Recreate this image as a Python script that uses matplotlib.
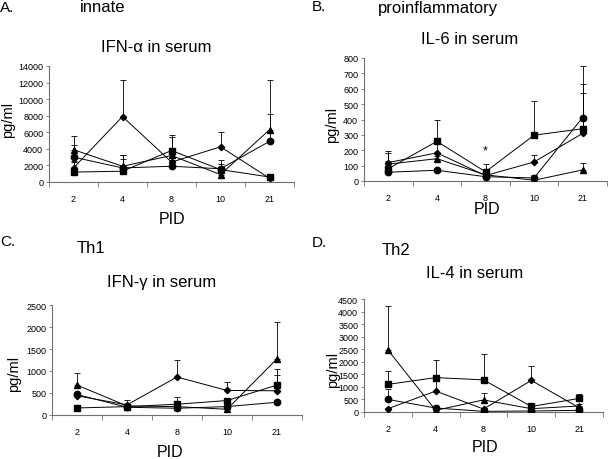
import matplotlib
matplotlib.use("Agg")
import matplotlib.pyplot as plt
import numpy as np

plt.rcParams["font.family"] = ["Liberation Sans", "DejaVu Sans"]

# days post infection (category axis)
pid = ["2", "4", "8", "10", "21"]

# series order in every panel: diamond, square, triangle, circle
ifna_means = [
    [1700, 7900, 2400, 4250, 450],
    [1200, 1300, 3800, 1500, 600],
    [3900, 1900, 3200, 900, 6300],
    [3000, 1700, 1900, 1600, 4900],
]
ifna_err = [
    [700, 4400, 300, 1750, 100],
    [1300, 1900, 1900, 1100, 100],
    [1700, 1300, 2200, 300, 6000],
    [1500, 1100, 400, 600, 3300],
]

il6_means = [
    [120, 183, 35, 124, 310],
    [80, 258, 60, 298, 340],
    [110, 145, 40, 5, 72],
    [57, 70, 28, 20, 413],
]
il6_err = [
    [60, 97, 10, 48, 265],
    [115, 142, 53, 222, 290],
    [20, 15, 10, 5, 48],
    [10, 10, 5, 20, 332],
]

ifng_means = [
    [436, 230, 864, 558, 550],
    [160, 190, 245, 329, 680],
    [680, 206, 190, 130, 1277],
    [466, 176, 153, 191, 290],
]
ifng_err = [
    [30, 110, 396, 182, 360],
    [20, 30, 155, 40, 375],
    [275, 40, 20, 20, 841],
    [20, 20, 20, 20, 40],
]

il4_means = [
    [132, 833, 119, 1257, 172],
    [1100, 1370, 1280, 220, 540],
    [2470, 66, 480, 132, 240],
    [500, 159, 26, 40, 66],
]
il4_err = [
    [30, 384, 30, 563, 30],
    [527, 720, 1035, 40, 160],
    [1750, 20, 287, 20, 60],
    [413, 30, 10, 10, 20],
]

markers = [("D", 3.2), ("s", 4.2), ("^", 4.8), ("o", 4.6)]

W, H = 608, 460
fig = plt.figure(figsize=(W / 100, H / 100), dpi=100)


def px_axes(left, right, top, bottom):
    return fig.add_axes([left / W, 1 - bottom / H, (right - left) / W, (bottom - top) / H])


def ftext(x, y, s, **kw):
    fig.text(x / W, 1 - y / H, s, **kw)


def draw_panel(ax, means, errs, ymax, ystep):
    x = np.arange(len(pid))
    for (m, ms), vals, err in zip(markers, means, errs):
        vals = np.array(vals, dtype=float)
        err = np.array(err, dtype=float)
        ax.errorbar(x, vals, yerr=[np.zeros_like(err), err], fmt="none",
                    ecolor="black", elinewidth=0.6, capsize=2, capthick=0.6, zorder=2)
        ax.plot(x, vals, color="black", lw=0.7, marker=m, ms=ms,
                mfc="black", mec="black", zorder=3)
    ax.set_xlim(-0.5, len(pid) - 0.5)
    ax.set_ylim(0, ymax)
    ax.set_yticks(np.arange(0, ymax + 1, ystep))
    ax.set_xticks(x)
    ax.set_xticklabels(pid)
    ax.set_xticks(np.arange(-0.5, len(pid), 1.0), minor=True)
    ax.tick_params(axis="x", which="major", length=0, pad=9, labelsize=6.5)
    ax.tick_params(axis="x", which="minor", length=3.5, width=0.6, color="#707070", direction="out")
    ax.tick_params(axis="y", length=2.2, width=0.6, color="#707070", pad=2, labelsize=6.5)
    for s in ("top", "right"):
        ax.spines[s].set_visible(False)
    for s in ("left", "bottom"):
        ax.spines[s].set_color("#707070")
        ax.spines[s].set_linewidth(0.8)
    ax.patch.set_alpha(0)


axA = px_axes(49, 294, 67, 183)
draw_panel(axA, ifna_means, ifna_err, 14000, 2000)
axB = px_axes(364, 607, 59, 182)
draw_panel(axB, il6_means, il6_err, 800, 100)
axB.text(2, 196, "*", ha="center", va="center", fontsize=9)
axC = px_axes(52, 302, 306, 416)
draw_panel(axC, ifng_means, ifng_err, 2500, 500)
axD = px_axes(364, 603, 300, 413)
draw_panel(axD, il4_means, il4_err, 4500, 500)

# panel letters and group labels
ftext(0, 8, "A.", fontsize=11, va="center")
ftext(312, 7, "B.", fontsize=11, va="center")
ftext(0, 242, "C.", fontsize=11, va="center")
ftext(312, 243, "D.", fontsize=11, va="center")
ftext(80, 8, "innate", fontsize=12, va="center")
ftext(378, 9, "proinflammatory", fontsize=12, va="center")
ftext(77, 249, "Th1", fontsize=12, va="center")
ftext(382, 251, "Th2", fontsize=12, va="center")

# cytokine titles
ftext(156, 48, "IFN-\u03b1 in serum", fontsize=12, ha="center", va="center")
ftext(470, 40, "IL-6 in serum", fontsize=12, ha="center", va="center")
ftext(162, 282, "IFN-\u03b3 in serum", fontsize=12, ha="center", va="center")
ftext(475, 273, "IL-4 in serum", fontsize=12, ha="center", va="center")

# axis labels
ftext(172, 220, "PID", fontsize=11.5, ha="center", va="center")
ftext(487, 210, "PID", fontsize=11.5, ha="center", va="center")
ftext(170, 453, "PID", fontsize=11.5, ha="center", va="center")
ftext(485, 448, "PID", fontsize=11.5, ha="center", va="center")
ftext(8, 120, "pg/ml", fontsize=10.5, ha="center", va="center", rotation=90)
ftext(332, 125, "pg/ml", fontsize=10.5, ha="center", va="center", rotation=90)
ftext(14, 374, "pg/ml", fontsize=10.5, ha="center", va="center", rotation=90)
ftext(333, 370, "pg/ml", fontsize=10.5, ha="center", va="center", rotation=90)

fig.savefig("out.png", dpi=100)
